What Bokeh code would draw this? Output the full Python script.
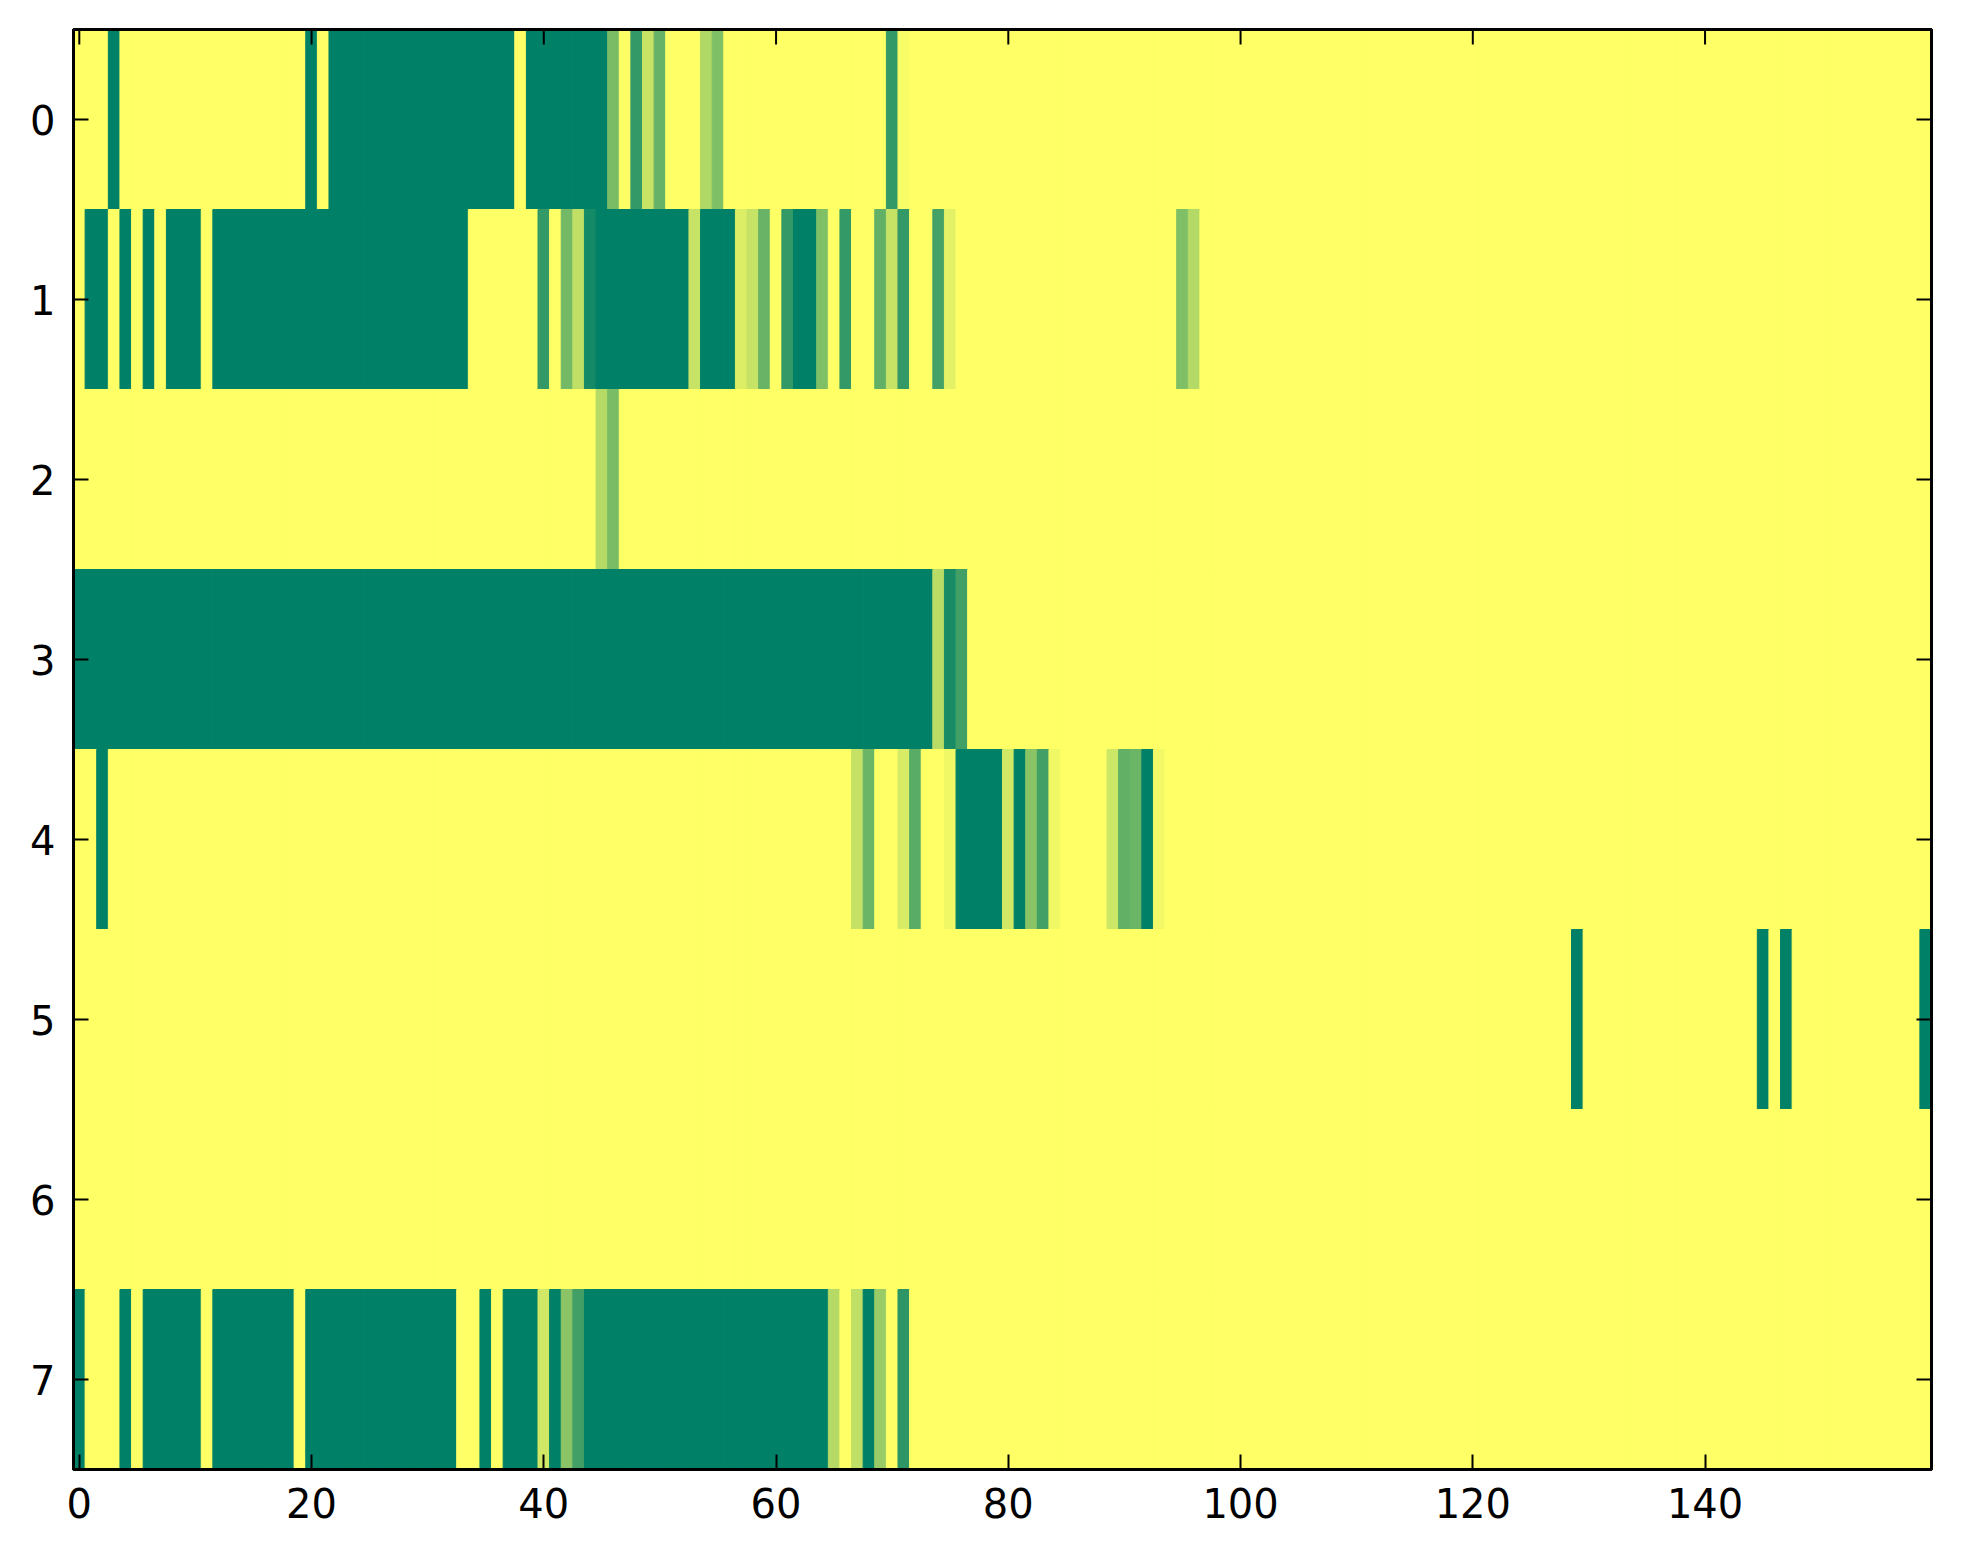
import numpy as np
from bokeh.plotting import figure
from bokeh.models import Range1d, FixedTicker, LinearColorMapper, ColumnDataSource, LinearAxis
from bokeh.transform import transform
from bokeh.embed import file_html
from bokeh.resources import INLINE

N_COLS = 160
N_ROWS = 8
x_ticks = [0, 20, 40, 60, 80, 100, 120, 140]
y_ticks = [0, 1, 2, 3, 4, 5, 6, 7]

# runs of (first column, last column, value); all other cells are 0
row0 = [(3, 3, 1.0), (20, 20, 1.0), (22, 37, 1.0), (39, 45, 1.0), (46, 46, 0.52),
        (48, 48, 0.8), (49, 49, 0.22), (50, 50, 0.6), (54, 54, 0.31), (55, 55, 0.5),
        (70, 70, 0.8), (71, 71, 0.03)]
row1 = [(1, 2, 1.0), (4, 4, 1.0), (6, 6, 1.0), (8, 10, 1.0), (12, 33, 1.0),
        (40, 40, 0.8), (42, 42, 0.55), (43, 43, 0.25), (44, 44, 0.92), (45, 52, 1.0),
        (53, 53, 0.22), (54, 56, 1.0), (57, 57, 0.14), (58, 58, 0.22), (59, 59, 0.59),
        (61, 61, 0.8), (62, 63, 1.0), (64, 64, 0.5), (66, 66, 0.8), (69, 69, 0.62),
        (70, 70, 0.22), (71, 71, 0.8), (74, 74, 0.73), (75, 75, 0.11),
        (95, 95, 0.5), (96, 96, 0.3)]
row2 = [(45, 45, 0.29), (46, 46, 0.52)]
row3 = [(0, 73, 1.0), (74, 74, 0.28), (75, 75, 0.9), (76, 76, 0.74)]
row4 = [(2, 2, 1.0), (67, 67, 0.23), (68, 68, 0.58), (71, 71, 0.16), (72, 72, 0.65),
        (75, 75, 0.06), (76, 79, 1.0), (80, 80, 0.18), (81, 81, 1.0), (82, 82, 0.46),
        (83, 83, 0.74), (84, 84, 0.06), (89, 89, 0.2), (90, 90, 0.62), (91, 91, 0.58),
        (92, 92, 1.0), (93, 93, 0.05)]
row5 = [(129, 129, 1.0), (145, 145, 1.0), (147, 147, 1.0), (159, 159, 1.0)]
row6 = []
row7 = [(0, 0, 1.0), (4, 4, 1.0), (6, 10, 1.0), (12, 18, 1.0), (20, 32, 1.0),
        (35, 35, 1.0), (37, 39, 1.0), (40, 40, 0.18), (41, 41, 1.0), (42, 42, 0.46),
        (43, 43, 0.74), (44, 64, 1.0), (65, 65, 0.29), (67, 67, 0.25), (68, 68, 1.0),
        (69, 69, 0.4), (71, 71, 0.82)]
rows = [row0, row1, row2, row3, row4, row5, row6, row7]

matrix = np.zeros((N_ROWS, N_COLS))
for r, runs in enumerate(rows):
    for a, b, v in runs:
        matrix[r, a:b + 1] = v

xs, ys, vs = [], [], []
for r in range(N_ROWS):
    for c in range(N_COLS):
        xs.append(c)
        ys.append(r)
        vs.append(matrix[r, c])
src = ColumnDataSource(dict(x=xs, y=ys, v=vs))

# summer_r colormap
palette = []
for i in range(256):
    t = i / 255.0
    rr, gg, bb = 1 - t, 1 - t / 2, 0.4
    palette.append("#%02x%02x%02x" % (int(round(rr * 255)), int(round(gg * 255)), int(round(bb * 255))))
mapper = LinearColorMapper(palette=palette, low=0, high=1)

x_lo, x_hi = -0.5, N_COLS - 0.5
y_top, y_bot = -0.5, N_ROWS - 0.5

p = figure(frame_width=1858, frame_height=1440,
           x_range=Range1d(x_lo, x_hi), y_range=Range1d(y_bot, y_top),
           output_backend="svg", toolbar_location=None,
           min_border_left=73, min_border_right=24, min_border_top=29, min_border_bottom=70)
p.background_fill_color = "white"
p.border_fill_color = "white"
p.grid.visible = False

p.rect(x="x", y="y", width=1, height=1, source=src,
       fill_color=transform("v", mapper), line_color=transform("v", mapper), line_width=1)

# tick marks on the top and right edges (inside the frame)
p.scatter(x=x_ticks, y=[y_top] * len(x_ticks), marker="dash", size=30, angle=np.pi / 2,
          line_color="black", line_width=2)
p.scatter(x=[x_hi] * len(y_ticks), y=y_ticks, marker="dash", size=30,
          line_color="black", line_width=2)

p.outline_line_color = "black"
p.outline_line_width = 3

for ax, ticks in ((p.xaxis[0], x_ticks), (p.yaxis[0], y_ticks)):
    ax.ticker = FixedTicker(ticks=ticks)
    ax.axis_line_color = "black"
    ax.axis_line_width = 3
    ax.major_tick_in = 15
    ax.major_tick_out = 0
    ax.major_tick_line_width = 2
    ax.major_tick_line_color = "black"
    ax.minor_tick_line_color = None
    ax.major_label_text_font = "DejaVu Sans"
    ax.major_label_text_color = "black"
    ax.major_label_text_font_size = "40px"
    ax.major_label_standoff = 18

# frame lines on the top and right sides (no ticks, no labels)
for loc in ("above", "right"):
    ax = LinearAxis(ticker=FixedTicker(ticks=[]))
    ax.axis_line_color = "black"
    ax.axis_line_width = 3
    ax.major_tick_line_color = None
    ax.minor_tick_line_color = None
    ax.major_label_standoff = 0
    p.add_layout(ax, loc)

open("out.html", "w").write(file_html(p, INLINE))
